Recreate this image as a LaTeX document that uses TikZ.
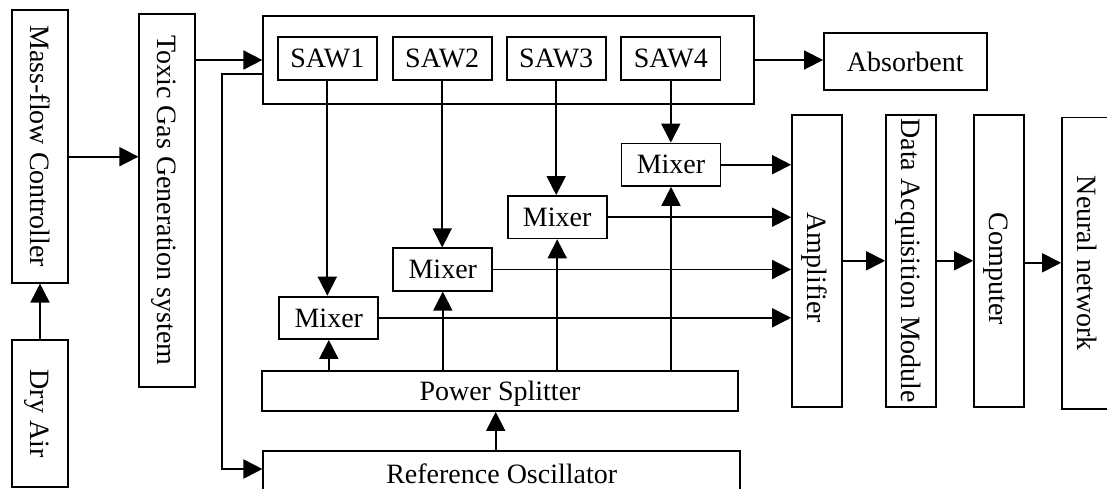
\documentclass[tikz,border=0pt]{standalone}
\usepackage{fontspec}
\setmainfont{Liberation Serif}
\usetikzlibrary{arrows.meta,calc}
\begin{document}
\begin{tikzpicture}[x=1pt,y=-1pt]
\tikzset{
  box/.style={draw, rectangle, inner sep=0pt, line width=1.8pt},
  lbl/.style={inner sep=0pt, font=\fontsize{28}{33}\selectfont, text depth=0pt},
  vlbl/.style={lbl, rotate=-90},
  arr/.style={-{Triangle[length=19pt,width=19pt]}, line width=1.8pt},
  mixbox/.style={box, lbl, minimum width=99pt, minimum height=42.4pt},
  sawbox/.style={box, lbl, minimum width=99.2pt, minimum height=42.7pt},
  colbox/.style={box, minimum width=50pt, minimum height=291.7pt}
}
\useasboundingbox (0,0) rectangle (1107,488);

% left column
\node[box, minimum width=56.6pt, minimum height=272.7pt] (mfc) at (40,146.3) {};
\node[vlbl] (mfcT) at (mfc.center) {Mass-flow Controller};
\node[box, minimum width=56.6pt, minimum height=147.3pt] (dry) at (40,413.7) {};
\node[vlbl] (dryT) at (dry.center) {Dry Air};
\node[box, minimum width=55.7pt, minimum height=372.7pt] (toxic) at (167.2,200.3) {};
\node[vlbl] (toxicT) at (toxic.center) {Toxic Gas Generation system};

% SAW container
\node[box, minimum width=491pt, minimum height=88pt] (cont) at (508.8,60) {};
\node[sawbox] (saw1) at (327.3,58.7) {SAW1};
\node[sawbox] (saw2) at (442.2,58.7) {SAW2};
\node[sawbox] (saw3) at (556.2,58.7) {SAW3};
\node[sawbox] (saw4) at (670.8,58.7) {SAW4};

\node[box, lbl, minimum width=162.7pt, minimum height=56.7pt] (abs) at (905.3,61.7) {Absorbent};

% mixers
\node[mixbox] (mix1) at (328.8,317.8) {Mixer};
\node[mixbox] (mix2) at (442.8,269.5) {Mixer};
\node[mixbox] (mix3) at (557.2,217.2) {Mixer};
\node[mixbox] (mix4) at (671,164.7) {Mixer};

% splitter and oscillator
\node[box, lbl, minimum width=476.6pt, minimum height=40pt] (ps) at (500,391) {Power Splitter};
\node[box, lbl, minimum width=476.7pt, minimum height=45.4pt] (ro) at (501.7,473.4) {Reference Oscillator};

% right columns
\node[colbox] (amp) at (817,260.8) {};
\node[vlbl] (ampT) at ([yshift=-7pt]amp.center) {Amplifier};
\node[colbox] (daq) at (911,260.8) {};
\node[vlbl] (daqT) at (daq.center) {Data Acquisition Module};
\node[colbox] (comp) at (999,260.8) {};
\node[vlbl] (compT) at ([yshift=-8pt]comp.center) {Computer};
\node[box, minimum width=50pt, minimum height=291.8pt] (nn) at (1087,263.4) {};
\node[vlbl] (nnT) at (nn.center) {Neural network};

% connectors
\draw[arr] (dry.north) -- (mfc.south);
\draw[arr] ([yshift=-10.4pt]mfc.east) -- ([yshift=-10.4pt]mfc.east -| toxic.west);
\draw[arr] (toxic.east |- cont.west) -- (cont.west);
\coordinate (fb1) at (221.7,74);
\coordinate (fb2) at (221.7,469);
\draw[arr] (fb1 -| cont.west) -- (fb1) -- (fb2) -- (fb2 -| ro.west);
\draw[arr] (cont.east) -- (cont.east -| abs.west);

\foreach \i in {1,2,3,4}{
  \draw[arr] (saw\i.south) -- (saw\i.south |- mix\i.north);
  \draw[arr] (ps.north -| mix\i) -- (mix\i.south);
  \draw[arr] (mix\i.east) -- (mix\i.east -| amp.west);
}
\draw[arr] ([xshift=-6pt]ro.north) -- ([xshift=-6pt]ro.north |- ps.south);
\draw[arr] (amp.east) -- (daq.west);
\draw[arr] (daq.east) -- (comp.west);
\draw[arr] ([yshift=-2pt]comp.east) -- ([yshift=-2pt]comp.east -| nn.west);
\end{tikzpicture}
\end{document}
